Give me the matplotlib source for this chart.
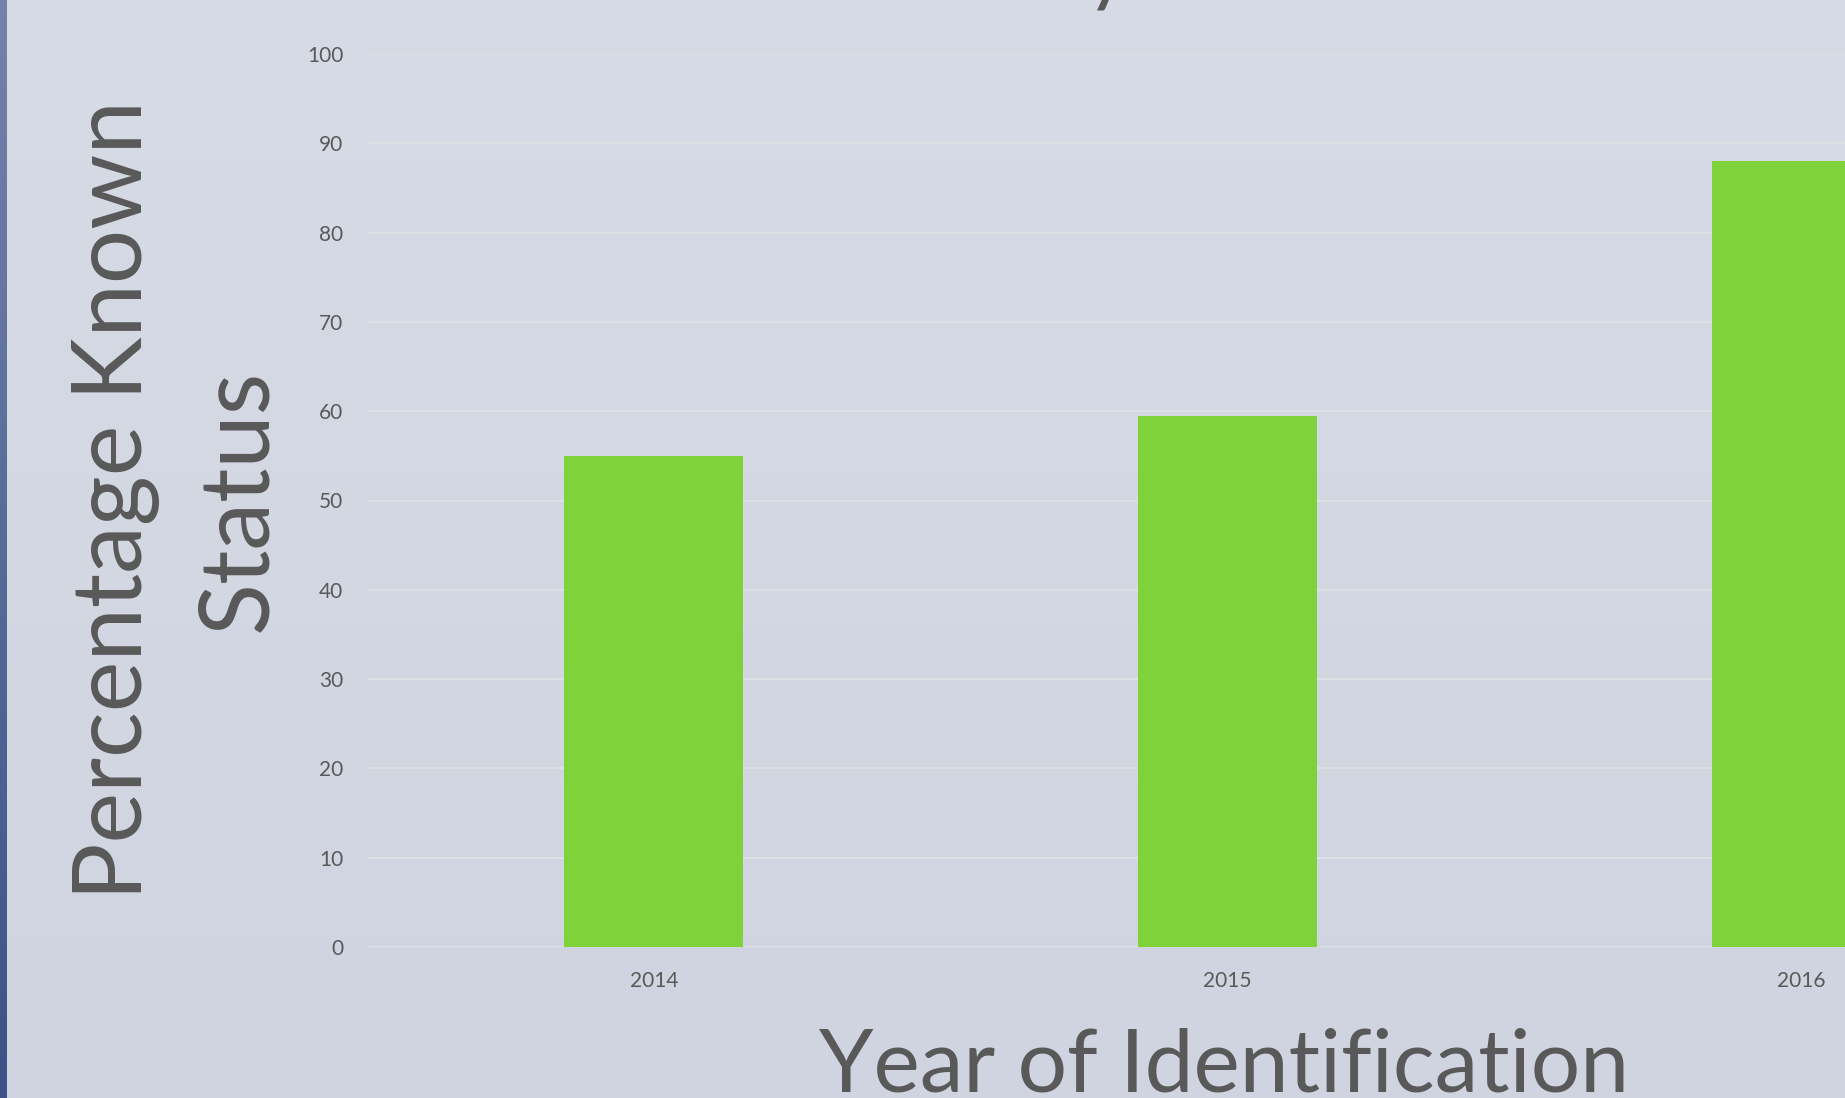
import matplotlib.pyplot as plt
import numpy as np
from matplotlib.colors import LinearSegmentedColormap

years = ['2014', '2015', '2016']
pct_known = [55, 59.5, 88]
y_ticks = [0, 10, 20, 30, 40, 50, 60, 70, 80, 90, 100]

txt_color = '#595959'
bar_color = '#7ed23a'

plt.rcParams['font.family'] = ['Lato', 'DejaVu Sans']

fig = plt.figure(figsize=(18.45, 10.98), dpi=100)

# slide background, light blue-grey gradient
bg = fig.add_axes([0, 0, 1, 1], zorder=-10)
grad = np.linspace(0, 1, 256).reshape(-1, 1)
bg_cmap = LinearSegmentedColormap.from_list('bg', ['#d7dbe5', '#cfd4e0'])
bg.imshow(grad, aspect='auto', cmap=bg_cmap, extent=[0, 1, 0, 1], origin='upper')
# dark frame on the left edge
edge_cmap = LinearSegmentedColormap.from_list('edge', ['#7383ab', '#3c5286'])
bg.imshow(grad, aspect='auto', cmap=edge_cmap, extent=[0, 7 / 1845, 0, 1], origin='upper')
bg.set_xlim(0, 1)
bg.set_ylim(0, 1)
bg.axis('off')

ax = fig.add_axes([367 / 1845, 151 / 1098, 3 * 573.6 / 1845, 893 / 1098])
ax.patch.set_alpha(0)
x = np.arange(len(years))
ax.bar(x, pct_known, width=0.312, color=bar_color, zorder=3)
ax.set_xlim(-0.5, 2.5)
ax.set_ylim(0, 100)
ax.set_yticks(y_ticks)
ax.set_xticks(x)
ax.set_xticklabels(years)
ax.grid(axis='y', color='#dddfe5', lw=1.5, zorder=0)
ax.tick_params(length=0, labelsize=15, labelcolor=txt_color)
ax.tick_params(axis='y', pad=17)
ax.tick_params(axis='x', pad=17.5)
for s in ax.spines.values():
    s.set_visible(False)

fig.text(178 / 1845, 1 - 500 / 1098, 'Percentage Known\nStatus', rotation=90,
         ha='center', va='center', multialignment='center',
         fontsize=69, color=txt_color, linespacing=1.5)
fig.text(1224 / 1845, 6 / 1098, 'Year of Identification', ha='center',
         va='baseline', fontsize=63, color=txt_color)
# chart title sits above the visible area, only a descender shows
fig.text(0.5 - 10 / 1845, 1 + 4 / 1098, 'Known Status by Year', ha='center',
         va='baseline', fontsize=60, color=txt_color)

fig.savefig('out.png', dpi=100)
